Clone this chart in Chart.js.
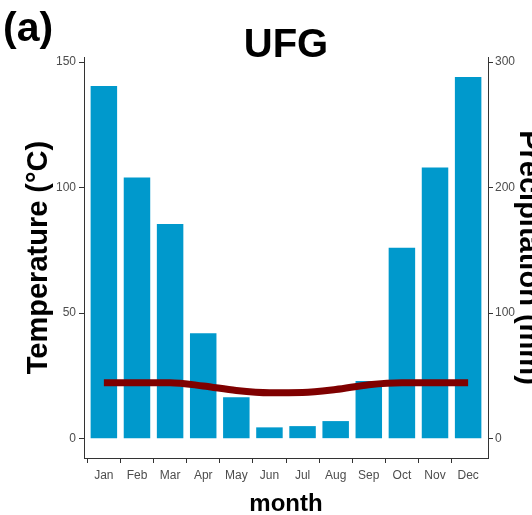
<!DOCTYPE html>
<html>
<head>
<meta charset="utf-8">
<script src="https://cdn.jsdelivr.net/npm/chart.js@4"></script>
<style>
  html, body { margin: 0; padding: 0; background: #fff; }
  #wrap { width: 532px; height: 515px; }
</style>
</head>
<body>
<div id="wrap"><canvas id="climateChart"></canvas></div>
<script>
const months = ['Jan', 'Feb', 'Mar', 'Apr', 'May', 'Jun', 'Jul', 'Aug', 'Sep', 'Oct', 'Nov', 'Dec'];
const precipitation = [281, 208, 171, 84, 33, 9, 10, 14, 46, 152, 216, 288];   // mm, right axis
const temperature = [22.3, 22.3, 22.3, 21.0, 19.2, 18.3, 18.4, 19.6, 21.5, 22.3, 22.3, 22.3]; // °C, left axis
const tempTicks = [0, 50, 100, 150];
const precipTicks = [0, 100, 200, 300];

const tickFont = { family: '"Liberation Sans", Arial, sans-serif', size: 12 };
const titleFamily = '"Liberation Sans", Arial, sans-serif';
const axisColor = '#333333';
const tickColor = '#4D4D4D';

// panel tag "(a)" in the top-left corner
const panelTag = {
    id: 'panelTag',
    afterDraw(chart) {
        const ctx = chart.ctx;
        ctx.save();
        ctx.font = 'bold 41px ' + titleFamily;
        ctx.fillStyle = '#000';
        ctx.textBaseline = 'alphabetic';
        ctx.fillText('(a)', 3, 41);
        ctx.restore();
    }
};

// only draw tick marks at the month positions
const monthTickColor = c => (c.tick && Number.isInteger(c.tick.value)) ? axisColor : 'rgba(0,0,0,0)';

const ctx = document.getElementById('climateChart').getContext('2d');
new Chart(ctx, {
    type: 'bar',
    data: {
        datasets: [
            {
                type: 'line',
                label: 'Temperature',
                data: temperature.map((v, i) => ({ x: i, y: v })),
                yAxisID: 'y',
                borderColor: '#7F0000',
                borderWidth: 7,
                pointRadius: 0,
                cubicInterpolationMode: 'monotone',
                order: 0
            },
            {
                type: 'bar',
                label: 'Precipitation',
                data: precipitation.map((v, i) => ({ x: i, y: v })),
                yAxisID: 'y1',
                backgroundColor: '#0099CC',
                categoryPercentage: 1,
                barPercentage: 0.8,
                order: 1
            }
        ]
    },
    options: {
        responsive: true,
        maintainAspectRatio: false,
        animation: false,
        layout: { padding: 0 },
        plugins: {
            legend: { display: false },
            tooltip: { enabled: false },
            title: {
                display: true,
                text: 'UFG',
                fullSize: false,
                color: '#000',
                font: { family: titleFamily, size: 40, weight: 'bold', lineHeight: 1 },
                padding: { top: 26, bottom: -9 }
            }
        },
        scales: {
            x: {
                type: 'linear',
                offset: false,
                min: -0.6,
                max: 11.6,
                afterBuildTicks: s => { s.ticks = months.map((m, i) => ({ value: i })); },
                afterFit: s => { s.height = 57; },
                ticks: {
                    callback: v => months[v],
                    color: tickColor,
                    font: tickFont,
                    padding: 5,
                    maxRotation: 0,
                    autoSkip: false
                },
                grid: { drawOnChartArea: false, tickLength: 5, color: monthTickColor, tickColor: monthTickColor },
                border: { color: axisColor, width: 1 },
                title: {
                    display: true,
                    text: 'month',
                    color: '#000',
                    font: { family: titleFamily, size: 24, weight: 'bold', lineHeight: 1 },
                    padding: { top: 0, bottom: -1 }
                }
            },
            y: {
                position: 'left',
                min: -7.7,
                max: 152,
                afterBuildTicks: s => { s.ticks = tempTicks.map(v => ({ value: v })); },
                afterFit: s => { s.width = 84; },
                ticks: { color: tickColor, font: tickFont, padding: 3 },
                grid: { drawOnChartArea: false, tickLength: 5, color: axisColor },
                border: { color: axisColor, width: 1 },
                title: {
                    display: true,
                    text: 'Temperature (°C)',
                    color: '#000',
                    font: { family: titleFamily, size: 29, weight: 'bold', lineHeight: 1 },
                    padding: { top: 24.5, bottom: 0 }
                }
            },
            y1: {
                position: 'right',
                min: -15.4,
                max: 304,
                afterBuildTicks: s => { s.ticks = precipTicks.map(v => ({ value: v })); },
                afterFit: s => { s.width = 44; },
                ticks: { color: tickColor, font: tickFont, padding: 2 },
                grid: { drawOnChartArea: false, tickLength: 5, color: axisColor },
                border: { color: axisColor, width: 1 },
                title: {
                    display: true,
                    text: 'Precipitation (mm)',
                    color: '#000',
                    font: { family: titleFamily, size: 29, weight: 'bold', lineHeight: 1 },
                    padding: { top: -10.5, bottom: 0 }
                }
            }
        }
    },
    plugins: [panelTag]
});
</script>
</body>
</html>
